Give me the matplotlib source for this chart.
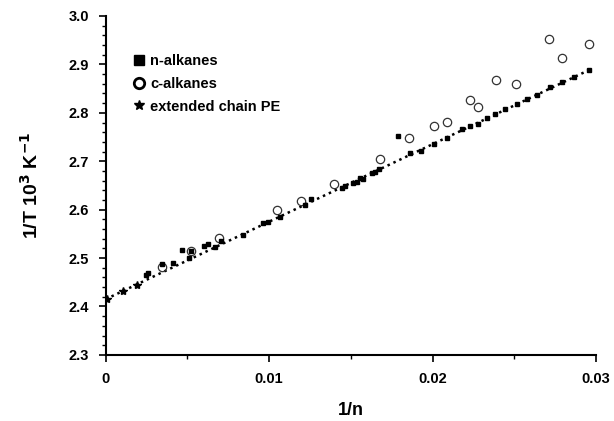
import matplotlib
matplotlib.use("Agg")
import matplotlib.pyplot as plt
from matplotlib.ticker import MultipleLocator

plt.rcParams['font.family'] = ['Liberation Sans', 'DejaVu Sans']

# n-alkanes (filled squares)
n_x = [0.0025, 0.0026, 0.00347, 0.0041, 0.00467, 0.00508, 0.0052, 0.0060, 0.00628,
       0.0067, 0.00704, 0.0084, 0.00965, 0.00995, 0.01067, 0.0122, 0.01256,
       0.01444, 0.01465, 0.01515, 0.01536, 0.01556, 0.01577, 0.01628, 0.01648,
       0.01673, 0.0179, 0.01862, 0.0193, 0.02011, 0.02087, 0.02179, 0.0223,
       0.0228, 0.0233, 0.02383, 0.02444, 0.02515, 0.02577, 0.02638, 0.0272,
       0.0279, 0.02866, 0.02954]
n_y = [2.465, 2.470, 2.487, 2.489, 2.517, 2.501, 2.515, 2.525, 2.529,
       2.522, 2.536, 2.548, 2.573, 2.575, 2.584, 2.610, 2.622,
       2.644, 2.648, 2.655, 2.658, 2.665, 2.663, 2.675, 2.677,
       2.684, 2.753, 2.717, 2.722, 2.736, 2.748, 2.766, 2.773,
       2.777, 2.789, 2.798, 2.808, 2.819, 2.828, 2.837, 2.853,
       2.863, 2.874, 2.889]

# c-alkanes (open circles)
c_x = [0.00347, 0.0052, 0.00695, 0.01047, 0.01195, 0.01397, 0.01675, 0.01858,
       0.0201, 0.02087, 0.0223, 0.0228, 0.0239, 0.0251, 0.02713, 0.0279, 0.02958]
c_y = [2.481, 2.515, 2.541, 2.600, 2.618, 2.653, 2.704, 2.749,
       2.772, 2.781, 2.827, 2.813, 2.867, 2.859, 2.952, 2.913, 2.943]

# extended chain PE (stars)
pe_x = [0.00006, 0.00108, 0.00193]
pe_y = [2.415, 2.431, 2.445]

# linear fit line
fit_x = [0.0, 0.0296]
fit_y = [2.415, 2.889]

x_ticks = [0, 0.01, 0.02, 0.03]
x_ticklabels = ['0', '0.01', '0.02', '0.03']
y_ticks = [2.3, 2.4, 2.5, 2.6, 2.7, 2.8, 2.9, 3.0]
y_ticklabels = ['2.3', '2.4', '2.5', '2.6', '2.7', '2.8', '2.9', '3.0']

fig = plt.figure(figsize=(6.14, 4.21), dpi=100)
ax = fig.add_axes([0.172, 0.157, 0.799, 0.805])

ax.plot(fit_x, fit_y, color='black', linestyle=(0, (1, 1.6)), linewidth=1.8, zorder=1)
ax.plot(n_x, n_y, linestyle='none', marker='s', markersize=3.4, color='black',
        label='n-alkanes', zorder=3)
ax.plot(c_x, c_y, linestyle='none', marker='o', markersize=6.0, markerfacecolor='none',
        markeredgecolor='#333333', markeredgewidth=0.9, label='c-alkanes', zorder=2)
ax.plot(pe_x, pe_y, linestyle='none', marker='*', markersize=6, color='black',
        label='extended chain PE', zorder=3)

ax.set_xlim(0, 0.03)
ax.set_ylim(2.3, 3.0)
ax.set_xticks(x_ticks)
ax.set_xticklabels(x_ticklabels, fontsize=10.5, fontweight='bold')
ax.set_yticks(y_ticks)
ax.set_yticklabels(y_ticklabels, fontsize=10.5, fontweight='bold')
ax.xaxis.set_minor_locator(MultipleLocator(0.005))
ax.yaxis.set_minor_locator(MultipleLocator(0.02))
ax.tick_params(axis='both', which='major', direction='out', length=5, width=1.2, pad=7)
ax.tick_params(axis='both', which='minor', direction='out', length=3, width=1.0)

for s in ['top', 'right']:
    ax.spines[s].set_visible(False)
for s in ['left', 'bottom']:
    ax.spines[s].set_linewidth(1.5)

ax.set_xlabel('1/n', fontsize=13, fontweight='bold', labelpad=12)
ax.set_ylabel('1/T 10$^\\mathbf{3}$ K$^\\mathbf{-1}$', fontsize=14, fontweight='bold', labelpad=19)

leg = ax.legend(loc='upper left', bbox_to_anchor=(0.045, 0.905), frameon=False,
                prop={'weight': 'bold', 'size': 10.5},
                handlelength=0.7, handletextpad=0.45, labelspacing=0.6, borderaxespad=0)
hs = leg.legend_handles
hs[0].set_markersize(7)
hs[1].set_markersize(7.5)
hs[1].set_markeredgewidth(2.0)
hs[1].set_markeredgecolor('black')
hs[2].set_markersize(7)

fig.savefig('out.png', dpi=100)
